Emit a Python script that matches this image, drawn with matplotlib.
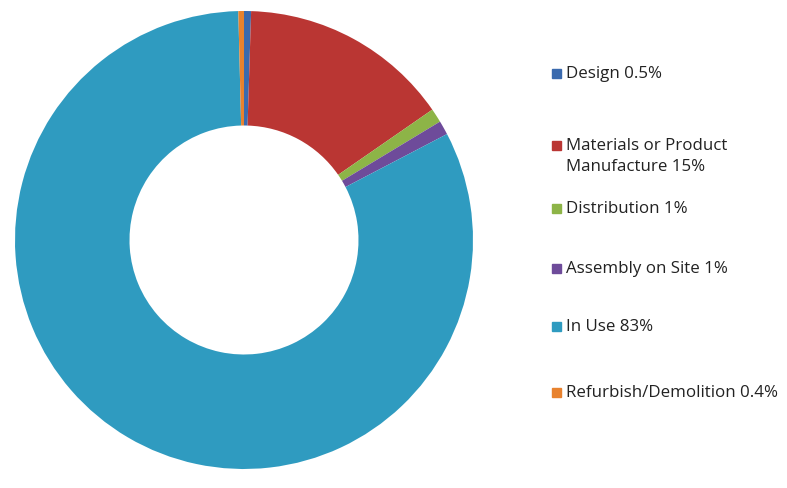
import matplotlib.pyplot as plt
from matplotlib.patches import Rectangle

stages = ["Design", "Materials or Product\nManufacture", "Distribution",
          "Assembly on Site", "In Use", "Refurbish/Demolition"]
shares = [0.5, 15, 1, 1, 83, 0.4]
share_labels = ["0.5%", "15%", "1%", "1%", "83%", "0.4%"]
colors = ["#3A6AAE", "#BA3633", "#8DB447", "#6E4B9A", "#2F9BC0", "#E8822E"]

# vertical pixel position (from top) of each legend row
row_y = [73, 145, 208, 268, 326, 392]

fig = plt.figure(figsize=(7.87, 4.88), dpi=100)
W, H = 787, 488

ax = fig.add_axes([15 / W, 19 / H, 458 / W, 458 / H])
ax.pie(shares, colors=colors, startangle=90, counterclock=False,
       radius=1, wedgeprops=dict(width=0.5, linewidth=0))
ax.set_xlim(-1, 1)
ax.set_ylim(-1, 1)
ax.set_aspect("equal")
ax.axis("off")

for name, val, c, y in zip(stages, share_labels, colors, row_y):
    fy = 1 - y / H
    fig.patches.append(Rectangle((552 / W, fy - 4.5 / H), 9 / W, 9 / H,
                                 transform=fig.transFigure, color=c))
    fig.text(566 / W, fy + 7 / H, name + " " + val, ha="left", va="top",
             fontsize=12.2, family="Open Sans", color="#222222",
             linespacing=1.4)

fig.savefig("out.png", dpi=100)
